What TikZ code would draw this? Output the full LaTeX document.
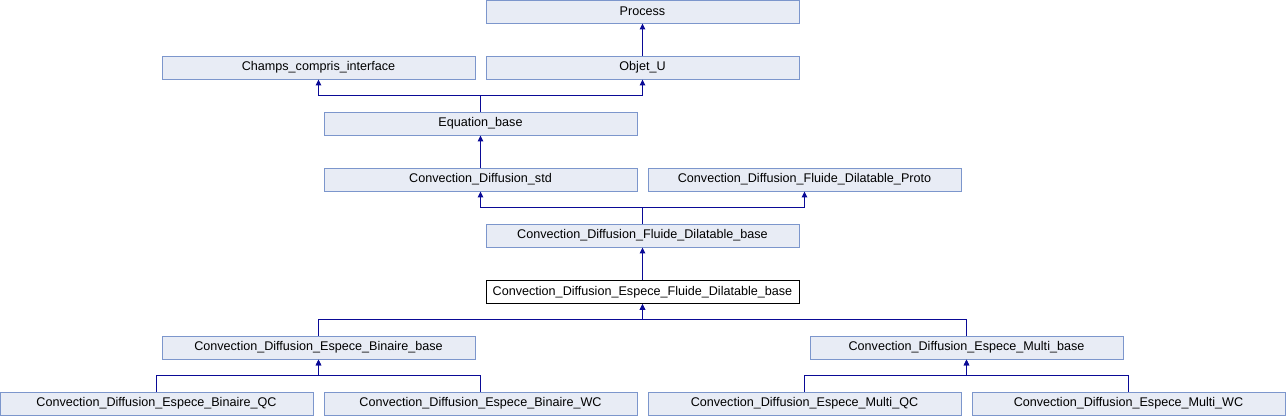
\documentclass[tikz,border=0pt]{standalone}
\usepackage{fontspec}
\setmainfont{Liberation Sans}
\usetikzlibrary{arrows.meta}
\definecolor{boxfill}{RGB}{232,236,245}
\definecolor{boxline}{RGB}{124,150,204}
\definecolor{edgeblue}{RGB}{10,10,150}
\tikzset{
  cls/.style={draw=boxline,fill=boxfill,line width=0.9pt,minimum width=313pt,minimum height=23pt,inner sep=0pt,font=\fontsize{12.6}{15}\selectfont},
  curcls/.style={cls,draw=black,fill=white},
  inh/.style={draw=edgeblue,line width=1.2pt,-{Triangle[length=6pt,width=5.5pt]}}
}
\begin{document}
\begin{tikzpicture}[x=1pt,y=-1pt]
\useasboundingbox (0,0) rectangle (1286,416);
%% the classes
\node[cls] (process) at (642.5,11.5) {Process};
\node[cls] (champs) at (318.5,67.5) {Champs\_compris\_interface};
\node[cls] (objet) at (642.5,67.5) {Objet\_U};
\node[cls] (eqb) at (480.5,123.5) {Equation\_base};
\node[cls] (std) at (480.5,179.5) {Convection\_Diffusion\_std};
\node[cls] (proto) at (804.5,179.5) {Convection\_Diffusion\_Fluide\_Dilatable\_Proto};
\node[cls] (fdb) at (642.5,235.5) {Convection\_Diffusion\_Fluide\_Dilatable\_base};
\node[curcls] (espece) at (642.5,292) {Convection\_Diffusion\_Espece\_Fluide\_Dilatable\_base};
\node[cls] (binb) at (318.5,347.5) {Convection\_Diffusion\_Espece\_Binaire\_base};
\node[cls] (multib) at (966.5,347.5) {Convection\_Diffusion\_Espece\_Multi\_base};
\node[cls] (binqc) at (156.5,403.5) {Convection\_Diffusion\_Espece\_Binaire\_QC};
\node[cls] (binwc) at (480.5,403.5) {Convection\_Diffusion\_Espece\_Binaire\_WC};
\node[cls] (mqc) at (804.5,403.5) {Convection\_Diffusion\_Espece\_Multi\_QC};
\node[cls] (mwc) at (1128.5,403.5) {Convection\_Diffusion\_Espece\_Multi\_WC};
%% the inheritance links
\draw[inh] (objet) -- (process);
\draw[inh] (eqb.north) -- ++(0,-16) -| (champs.south);
\draw[inh] (eqb.north) -- ++(0,-16) -| (objet.south);
\draw[inh] (std) -- (eqb);
\draw[inh] (fdb.north) -- ++(0,-16) -| (std.south);
\draw[inh] (fdb.north) -- ++(0,-16) -| (proto.south);
\draw[inh] (espece) -- (fdb);
\draw[inh] (binb.north) -- ++(0,-16) -| (espece.south);
\draw[inh] (multib.north) -- ++(0,-16) -| (espece.south);
\draw[inh] (binqc.north) -- ++(0,-16) -| (binb.south);
\draw[inh] (binwc.north) -- ++(0,-16) -| (binb.south);
\draw[inh] (mqc.north) -- ++(0,-16) -| (multib.south);
\draw[inh] (mwc.north) -- ++(0,-16) -| (multib.south);
\end{tikzpicture}
\end{document}
